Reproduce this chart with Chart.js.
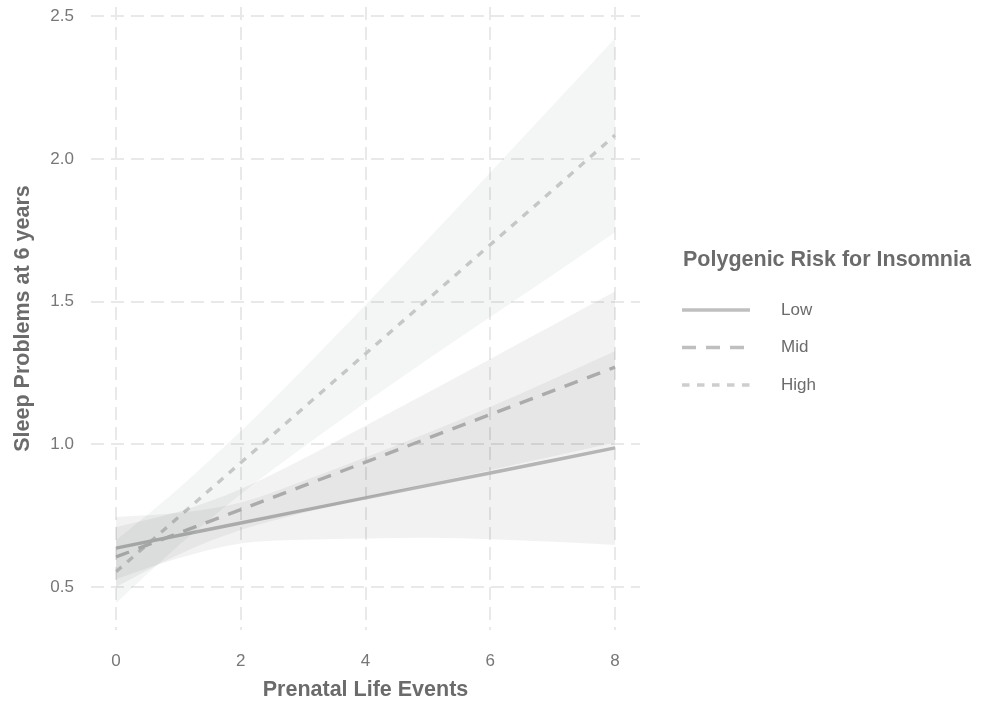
<!DOCTYPE html>
<html>
<head>
<meta charset="utf-8">
<script src="https://cdn.jsdelivr.net/npm/chart.js@4.4.1/dist/chart.umd.min.js"></script>
<style>
  html, body { margin: 0; padding: 0; background: #fff; }
  #wrap { width: 988px; height: 701px; }
</style>
</head>
<body>
<div id="wrap"><canvas id="myChart" width="988" height="701"></canvas></div>
<script>
// values
const xVals = [0, 1, 2, 3, 4, 5, 6, 7, 8];
const lowFit   = [0.636, 0.680, 0.724, 0.768, 0.812, 0.856, 0.899, 0.943, 0.987];
const lowLower = [0.527, 0.600, 0.652, 0.665, 0.670, 0.672, 0.667, 0.658, 0.647];
const lowUpper = [0.745, 0.760, 0.796, 0.871, 0.954, 1.040, 1.131, 1.228, 1.327];
const midFit   = [0.605, 0.688, 0.771, 0.854, 0.937, 1.021, 1.104, 1.187, 1.270];
const midLower = [0.500, 0.613, 0.699, 0.759, 0.809, 0.861, 0.909, 0.957, 1.005];
const midUpper = [0.710, 0.763, 0.843, 0.949, 1.065, 1.181, 1.299, 1.417, 1.535];
const highFit   = [0.553, 0.744, 0.935, 1.126, 1.317, 1.508, 1.699, 1.890, 2.083];
const highLower = [0.443, 0.644, 0.825, 0.989, 1.146, 1.298, 1.446, 1.593, 1.743];
const highUpper = [0.663, 0.844, 1.045, 1.263, 1.488, 1.718, 1.952, 2.187, 2.423];
const groupNames = ["Low", "Mid", "High"];
const xTicks = [0, 2, 4, 6, 8];
const yTicks = [0.5, 1.0, 1.5, 2.0, 2.5];

function pts(ys) {
    return xVals.map((x, i) => ({x: x, y: ys[i]}));
}

function band(lower, upper, color) {
    return [{
        data: pts(lower), borderWidth: 0, pointRadius: 0, fill: false,
        cubicInterpolationMode: 'monotone'
    }, {
        data: pts(upper), borderWidth: 0, pointRadius: 0, fill: '-1',
        backgroundColor: color, cubicInterpolationMode: 'monotone'
    }];
}

function fitLine(label, ys, color, dash) {
    return {
        label: label, data: pts(ys), borderColor: color, borderWidth: 3.4,
        borderDash: dash, borderCapStyle: 'butt', pointRadius: 0, fill: false
    };
}

const font = "'Liberation Sans', Arial, sans-serif";

// legend drawn by hand, ggplot style, to the right of the panel
const sideLegend = {
    id: 'sideLegend',
    afterDraw(chart) {
        const ctx = chart.ctx;
        ctx.save();
        ctx.fillStyle = '#6b6b6b';
        ctx.textBaseline = 'middle';
        ctx.font = 'bold 21.5px ' + font;
        ctx.fillText('Polygenic Risk for Insomnia', 683, 260);
        ctx.font = '17px ' + font;
        const lines = chart.data.datasets.filter(d => d.label);
        lines.forEach((d, i) => {
            const y = 310 + i * 37.5;
            ctx.beginPath();
            ctx.strokeStyle = d.borderColor;
            ctx.lineWidth = d.borderWidth;
            ctx.lineCap = 'butt';
            ctx.setLineDash(d.borderDash);
            ctx.moveTo(682, y);
            ctx.lineTo(750, y);
            ctx.stroke();
            ctx.setLineDash([]);
            ctx.fillStyle = '#6b6b6b';
            ctx.fillText(d.label, 781, y);
        });
        ctx.restore();
    }
};

var ctx = document.getElementById('myChart').getContext('2d');
var chart = new Chart(ctx, {
    type: 'line',
    data: {
        datasets: [
            ...band(lowLower, lowUpper, 'rgba(0,0,0,0.05)'),
            ...band(midLower, midUpper, 'rgba(0,0,0,0.05)'),
            ...band(highLower, highUpper, 'rgba(70,110,110,0.06)'),
            fitLine(groupNames[0], lowFit, '#bfbfbf', []),
            fitLine(groupNames[1], midFit, '#bfbfbf', [14, 10]),
            fitLine(groupNames[2], highFit, '#cecece', [7.5, 7.5])
        ]
    },
    options: {
        responsive: false,
        animation: false,
        layout: { padding: { top: 7, right: 348, left: 0, bottom: 0 } },
        plugins: { legend: { display: false }, tooltip: { enabled: false } },
        scales: {
            x: {
                type: 'linear', min: -0.4, max: 8.4,
                afterBuildTicks: s => { s.ticks = xTicks.map(v => ({value: v})); },
                afterFit: s => { s.height = 71; s.paddingLeft = 0; s.paddingRight = 0; },
                grid: { color: '#e9e9e9', lineWidth: 2, drawTicks: false },
                border: { display: false, dash: [13, 7] },
                ticks: {
                    padding: 21, color: '#777',
                    font: { family: font, size: 17 },
                    callback: v => String(v)
                },
                title: {
                    display: true, text: 'Prenatal Life Events', color: '#6b6b6b',
                    font: { family: font, size: 21.5, weight: 'bold', lineHeight: 1 },
                    padding: { top: 0, bottom: 0 }
                }
            },
            y: {
                type: 'linear', min: 0.349, max: 2.532,
                afterBuildTicks: s => { s.ticks = yTicks.map(v => ({value: v})); },
                afterFit: s => { s.width = 91; s.paddingTop = 0; s.paddingBottom = 0; },
                grid: { color: '#e9e9e9', lineWidth: 2, drawTicks: false },
                border: { display: false, dash: [13, 7] },
                ticks: {
                    padding: 17, color: '#777',
                    font: { family: font, size: 17 },
                    callback: v => v.toFixed(1)
                },
                title: {
                    display: true, text: 'Sleep Problems at 6 years', color: '#6b6b6b',
                    font: { family: font, size: 21.5, weight: 'bold' },
                    padding: { top: 10, bottom: 0 }
                }
            }
        }
    },
    plugins: [sideLegend]
});
</script>
</body>
</html>
